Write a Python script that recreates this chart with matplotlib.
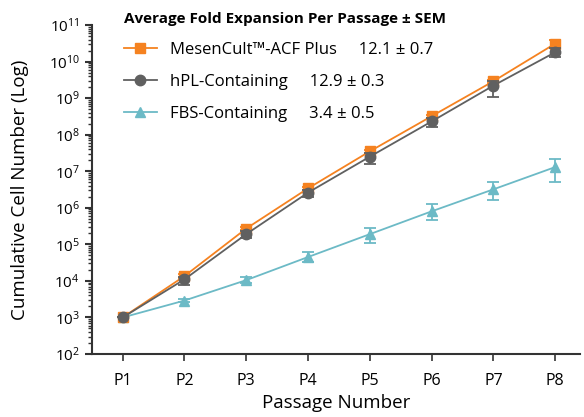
import matplotlib
matplotlib.use('Agg')
import matplotlib.pyplot as plt
import numpy as np
from matplotlib.ticker import LogLocator, NullFormatter
from matplotlib.lines import Line2D

plt.rcParams['font.family'] = ['Open Sans', 'DejaVu Sans']

# Data
passages = ['P1', 'P2', 'P3', 'P4', 'P5', 'P6', 'P7', 'P8']
labels = ['MesenCult\u2122-ACF Plus', 'hPL-Containing', 'FBS-Containing']
fold_values = ['12.1 \u00b1 0.7', '12.9 \u00b1 0.3', '3.4 \u00b1 0.5']

acf_mean = [1e3, 1.35e4, 2.7e5, 3.4e6, 3.5e7, 3.2e8, 2.9e9, 3.1e10]
acf_lo = [1e3, 1.2e4, 2.4e5, 3.0e6, 3.1e7, 2.9e8, 2.6e9, 2.5e10]
acf_hi = [1e3, 1.5e4, 3.0e5, 3.8e6, 3.9e7, 3.5e8, 3.2e9, 3.8e10]

hpl_mean = [1e3, 1.1e4, 1.9e5, 2.6e6, 2.5e7, 2.3e8, 2.2e9, 1.8e10]
hpl_lo = [1e3, 7.5e3, 1.5e5, 2.0e6, 1.6e7, 1.6e8, 1.1e9, 1.3e10]
hpl_hi = [1e3, 1.3e4, 2.3e5, 3.1e6, 3.1e7, 2.9e8, 3.0e9, 2.4e10]

fbs_mean = [1e3, 2.9e3, 1.05e4, 4.5e4, 1.9e5, 8.0e5, 3.2e6, 1.3e7]
fbs_lo = [1e3, 2.6e3, 8.5e3, 3.2e4, 1.1e5, 4.5e5, 1.6e6, 5.0e6]
fbs_hi = [1e3, 3.2e3, 1.25e4, 6.0e4, 2.8e5, 1.3e6, 5.0e6, 2.2e7]

colors = ['#F58220', '#606060', '#6CBAC6']
markers = ['s', 'o', '^']
zorders = [3, 4, 2]

fig = plt.figure(figsize=(5.84, 4.17), dpi=100)
ax = fig.add_axes([0.157, 0.151, 0.836, 0.789])

x = np.arange(1, len(passages) + 1)
series = [(acf_mean, acf_lo, acf_hi), (hpl_mean, hpl_lo, hpl_hi), (fbs_mean, fbs_lo, fbs_hi)]
handles = []
for (m, lo, hi), c, mk, lab, fv, z in zip(series, colors, markers, labels, fold_values, zorders):
    m = np.array(m); lo = np.array(lo); hi = np.array(hi)
    yerr = [m - lo, hi - m]
    ax.errorbar(x, m, yerr=yerr, color=c, marker=mk, markersize=7.5, lw=1.3,
                elinewidth=1.3, capsize=4, capthick=1.3, zorder=z)
    handles.append(Line2D([], [], color=c, marker=mk, markersize=7.5, lw=1.3,
                          label=lab + '     ' + fv))

ax.set_yscale('log')
ax.set_ylim(1e2, 1e11)
ax.set_xlim(0.5, 8.4)
ax.set_xticks(x)
ax.set_xticklabels(passages, fontsize=11.5)
ax.yaxis.set_major_locator(LogLocator(base=10, numticks=20))
ax.yaxis.set_minor_locator(LogLocator(base=10, subs=np.arange(2, 10), numticks=20))
ax.yaxis.set_minor_formatter(NullFormatter())
ax.tick_params(axis='y', which='major', labelsize=11, length=5, width=1.5, color='#333333')
ax.tick_params(axis='y', which='minor', length=3, width=1, color='#333333')
ax.tick_params(axis='x', length=5, width=1.2, pad=9, color='#333333')

for s in ['top', 'right']:
    ax.spines[s].set_visible(False)
for s in ['left', 'bottom']:
    ax.spines[s].set_linewidth(1.5)
    ax.spines[s].set_color('#333333')

ax.set_ylabel('Cumulative Cell Number (Log)', fontsize=13.5, labelpad=14)
ax.set_xlabel('Passage Number', fontsize=13.5, labelpad=3)

leg = ax.legend(handles=handles, loc='upper left', bbox_to_anchor=(0.035, 1.085),
                frameon=False, fontsize=12, title='Average Fold Expansion Per Passage \u00b1 SEM',
                title_fontproperties={'weight': 'bold', 'size': 11},
                labelspacing=0.95, handlelength=2.0, handletextpad=0.8)
leg._legend_box.align = 'left'

plt.savefig('out.png', dpi=100)
